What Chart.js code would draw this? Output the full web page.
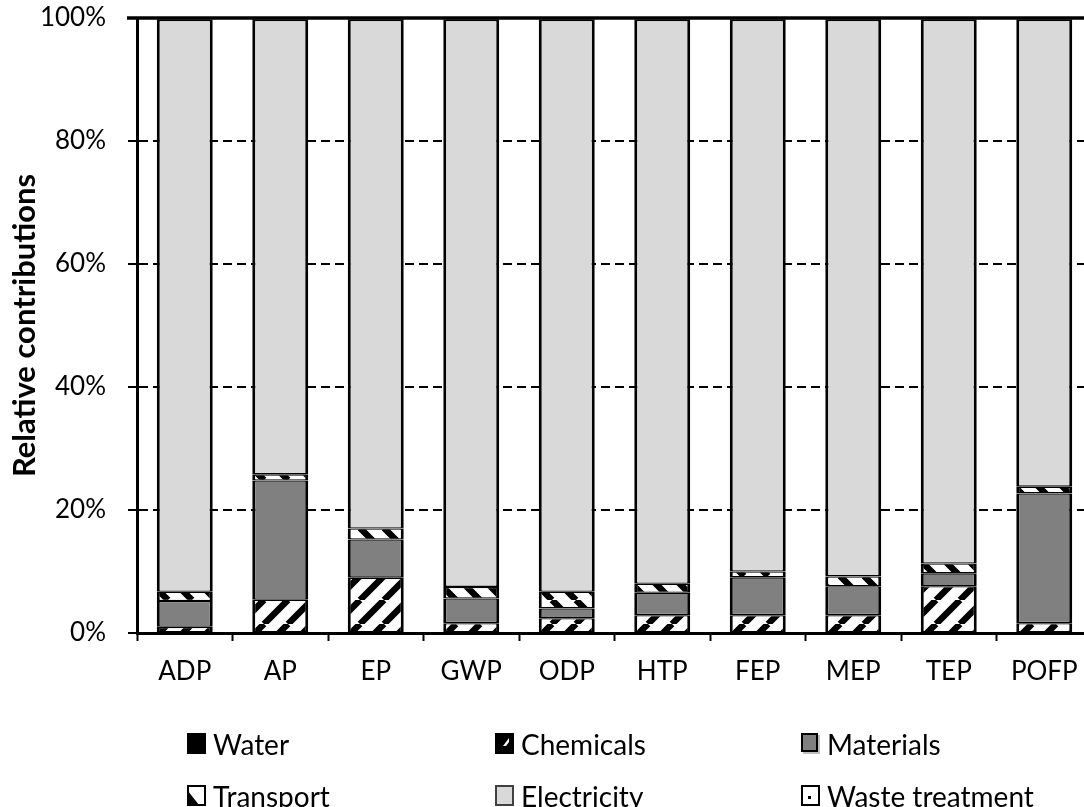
<!DOCTYPE html>
<html>
<head>
<meta charset="utf-8">
<script src="https://cdn.jsdelivr.net/npm/chart.js@4.4.1/dist/chart.umd.min.js"></script>
<style>
  html, body { margin: 0; padding: 0; background: #fff; overflow: hidden; width: 1084px; height: 807px; }
  #wrap { position: absolute; left: 0; top: 0; width: 1096px; height: 807px; }
  #legend { position: absolute; left: 0; top: 0; width: 1084px; height: 807px; pointer-events: none;
            font-family: Lato, "Open Sans", sans-serif; font-size: 28px; color: #000; }
  .item { position: absolute; display: flex; align-items: center; height: 30px; white-space: nowrap; }
  .item canvas { width: 19px; height: 21px; margin-right: 7px; }
</style>
</head>
<body>
<div id="wrap"><canvas id="c"></canvas></div>
<div id="legend"></div>
<script>
// ---- data (percent of total) ----
const categories = ['ADP', 'AP', 'EP', 'GWP', 'ODP', 'HTP', 'FEP', 'MEP', 'TEP', 'POFP'];
const water      = [0.1, 0.1, 0.1, 0.1, 0.1, 0.1, 0.1, 0.1, 0.1, 0.1];
const chemicals  = [0.9, 5.3, 8.9, 1.5, 2.3, 2.8, 2.8, 2.8, 7.5, 1.5];
const materials  = [4.2, 19.4, 6.2, 4.0, 1.6, 3.65, 6.15, 4.7, 2.1, 21.1];
const transport  = [1.5, 1.0, 1.8, 1.9, 2.7, 1.45, 0.95, 1.6, 1.6, 1.1];
const electricity= [93.0, 73.9, 82.7, 92.2, 93.0, 91.7, 89.7, 90.5, 88.4, 75.9];
const waste      = [0.3, 0.3, 0.3, 0.3, 0.3, 0.3, 0.3, 0.3, 0.3, 0.3];
const yTicks     = [0, 20, 40, 60, 80, 100];
const seriesNames = ['Water', 'Chemicals', 'Materials', 'Transport', 'Electricity', 'Waste treatment'];

const canvas = document.getElementById('c');
const ctx = canvas.getContext('2d');

function stripePattern(dir) {
  const s = 24;
  const c = document.createElement('canvas');
  c.width = s; c.height = s;
  const g = c.getContext('2d');
  g.fillStyle = '#fff'; g.fillRect(0, 0, s, s);
  g.strokeStyle = '#000'; g.lineWidth = 6.5;
  g.beginPath();
  for (const k of [-1, 0, 1]) {
    if (dir === '/') { g.moveTo(k * s, s); g.lineTo(k * s + s, 0); }
    else { g.moveTo(k * s, 0); g.lineTo(k * s + s, s); }
  }
  g.stroke();
  return ctx.createPattern(c, 'repeat');
}
function dotPattern() {
  const s = 10;
  const c = document.createElement('canvas');
  c.width = s; c.height = s;
  const g = c.getContext('2d');
  g.fillStyle = '#fff'; g.fillRect(0, 0, s, s);
  g.fillStyle = '#000'; g.fillRect(2, 2, 2, 2);
  return ctx.createPattern(c, 'repeat');
}

const fills = ['#000000', stripePattern('/'), '#808080', stripePattern('\\'), '#d9d9d9', dotPattern()];
const values = [water, chemicals, materials, transport, electricity, waste];

const datasets = seriesNames.map((name, i) => ({
  label: name,
  data: values[i],
  backgroundColor: fills[i],
  borderColor: '#000',
  borderWidth: { left: 3, right: 3, top: 1.3, bottom: 1.3 },
  borderSkipped: false,
  barPercentage: 0.586,
  categoryPercentage: 1.0
}));

const topLine = {
  id: 'topLine',
  afterDatasetsDraw(chart) {
    const y = chart.scales.y.getPixelForValue(100);
    const a = chart.chartArea;
    const g = chart.ctx;
    g.save();
    g.strokeStyle = '#000'; g.lineWidth = 3.5;
    g.beginPath(); g.moveTo(a.left - 10, y); g.lineTo(a.right, y); g.stroke();
    g.restore();
  }
};

const chart = new Chart(canvas, {
  type: 'bar',
  data: { labels: categories, datasets },
  options: {
    responsive: true,
    maintainAspectRatio: false,
    animation: false,
    layout: { padding: { top: 18, right: 4, left: 0, bottom: 0 } },
    plugins: { legend: { display: false }, tooltip: { enabled: false } },
    scales: {
      x: {
        stacked: true,
        grid: { offset: true, drawOnChartArea: false, drawTicks: true, tickLength: 8, tickColor: '#000', tickWidth: 2 },
        border: { display: true, color: '#000', width: 3 },
        ticks: { color: '#000', padding: 15, font: { family: 'Lato', size: 26 } },
        afterFit(s) { s.height = 174; s.paddingLeft = 0; s.paddingRight = 0; }
      },
      y: {
        stacked: true,
        min: 0, max: 100,
        afterBuildTicks(s) { s.ticks = yTicks.map(v => ({ value: v })); },
        grid: { color: '#000', lineWidth: 2, drawTicks: true, tickLength: 9, tickColor: '#000', tickWidth: 2, tickBorderDash: [] },
        border: { display: true, color: '#000', width: 3, dash: [9, 5] },
        ticks: { color: '#000', padding: 22, font: { family: 'Lato', size: 26 }, callback: v => v + '%' },
        title: { display: true, text: 'Relative contributions', color: '#000', padding: { top: 6, bottom: 0 },
                 font: { family: 'Lato', size: 31, weight: 'bold' } },
        afterFit(s) { s.width = 137; s.paddingTop = 0; s.paddingBottom = 0; }
      }
    }
  },
  plugins: [topLine]
});

// ---- HTML legend (3 columns x 2 rows) ----
const legendCols = [187, 495, 801];
const legendRows = [743.5, 795.5];
function drawSwatch(c, i) {
  const w = 19, h = 21, r = 2;
  c.width = w * r; c.height = h * r;
  const g = c.getContext('2d');
  g.scale(r, r);
  g.fillStyle = '#fff'; g.fillRect(0, 0, w, h);
  if (i === 0) { g.fillStyle = '#000'; g.fillRect(0, 0, w, h); return; }
  if (i === 1) {
    g.fillStyle = '#000'; g.fillRect(0, 0, w, h);
    g.fillStyle = '#fff';
    g.beginPath(); g.moveTo(8, 13); g.lineTo(14, 5); g.lineTo(14, 9); g.lineTo(11, 13); g.closePath(); g.fill();
    return;
  }
  if (i === 2) {
    g.fillStyle = '#bfbfbf'; g.fillRect(2, 2, w - 2, h - 2);
    g.fillStyle = '#808080'; g.fillRect(0, 0, w - 2, h - 2);
    g.strokeStyle = '#000'; g.lineWidth = 2; g.strokeRect(1, 1, w - 4, h - 4);
    return;
  }
  if (i === 3) {
    g.fillStyle = '#000';
    g.beginPath(); g.moveTo(1, 6); g.lineTo(12, h - 1); g.lineTo(1, h - 1); g.closePath(); g.fill();
    g.strokeStyle = '#000'; g.lineWidth = 2; g.strokeRect(1, 1, w - 2, h - 2);
    return;
  }
  if (i === 4) {
    g.fillStyle = '#d9d9d9'; g.fillRect(0, 0, w, h);
    g.strokeStyle = '#404040'; g.lineWidth = 2; g.strokeRect(1, 1, w - 2, h - 2);
    return;
  }
  g.strokeStyle = '#000'; g.lineWidth = 2; g.strokeRect(1, 1, w - 2, h - 2);
  g.fillStyle = '#000'; g.fillRect(7, 11, 3, 3);
}
const legendEl = document.getElementById('legend');
chart.data.datasets.forEach((ds, i) => {
  const item = document.createElement('div');
  item.className = 'item';
  item.style.left = legendCols[i % 3] + 'px';
  item.style.top = (legendRows[Math.floor(i / 3)] - 15) + 'px';
  const sw = document.createElement('canvas');
  drawSwatch(sw, i);
  const span = document.createElement('span');
  span.textContent = ds.label;
  item.appendChild(sw); item.appendChild(span);
  legendEl.appendChild(item);
});
</script>
</body>
</html>
